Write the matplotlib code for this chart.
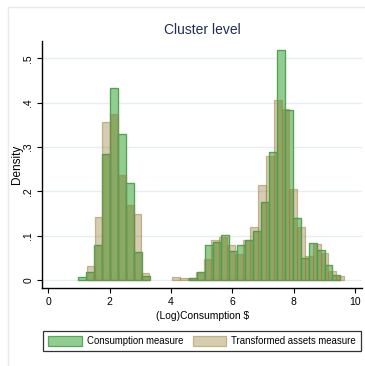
import numpy as np
import matplotlib
matplotlib.use('Agg')
import matplotlib.pyplot as plt
from matplotlib.patches import Rectangle, Patch

plt.rcParams['font.family'] = ['Liberation Sans', 'DejaVu Sans']

# histogram data (density per bin)
cons_start, cons_width = 0.977, 0.259
cons_density = [0.006, 0.017, 0.079, 0.284, 0.433, 0.329, 0.220, 0.063, 0.008,
                0, 0, 0, 0, 0,
                0.004, 0.017, 0.080, 0.086, 0.101, 0.065, 0.078, 0.090, 0.110,
                0.175, 0.290, 0.520, 0.383, 0.141, 0.049, 0.083, 0.068, 0.033, 0.011]

asset_start, asset_width = 1.252, 0.2543
asset_density = [0.032, 0.143, 0.357, 0.375, 0.237, 0.169, 0.149, 0.016,
                 0, 0, 0,
                 0.006, 0.004, 0.005, 0.019, 0.047, 0.090, 0.098, 0.078, 0.059,
                 0.090, 0.119, 0.214, 0.281, 0.407, 0.387, 0.205, 0.119, 0.055,
                 0.081, 0.060, 0.020, 0.009]

xticks = [0, 2, 4, 6, 8, 10]
yticks = [0, 0.1, 0.2, 0.3, 0.4, 0.5]
ytick_labels = ['0', '.1', '.2', '.3', '.4', '.5']

green_face = '#91cd91'
green_edge = '#55a855'
tan_face = (122/255, 88/255, 0, 0.30)
tan_edge = (0.62, 0.52, 0.30, 0.55)

fig = plt.figure(figsize=(3.65, 3.66), dpi=100)
fig.patch.set_facecolor('white')
# light outer frame of the graph region
fig.patches.append(Rectangle((7.5/365, -0.05), 1.2, (366-6.5)/366 + 0.05, transform=fig.transFigure,
                             fill=False, edgecolor='#e4ecec', lw=1.0))

ax = fig.add_axes([0.1159, 0.2123, 0.876, 0.6757])

def edges(start, width, n):
    return start + width*np.arange(n)

cd = np.array(cons_density)
ad = np.array(asset_density)
cx = edges(cons_start, cons_width, len(cd))
axx = edges(asset_start, asset_width, len(ad))
cm = cd > 0
am = ad > 0

ax.bar(cx[cm], cd[cm], width=cons_width, align='edge', color=green_face,
       edgecolor=green_edge, linewidth=0.9, zorder=2)
ax.bar(axx[am], ad[am], width=asset_width, align='edge', color=tan_face,
       edgecolor=tan_edge, linewidth=0.9, zorder=3)
# green outlines stay visible through the overlap
ax.bar(cx[cm], cd[cm], width=cons_width, align='edge', fill=False,
       edgecolor=(0.33, 0.62, 0.33, 0.55), linewidth=0.9, zorder=4)

ax.set_xlim(-0.196, 10.23)
ax.set_ylim(-0.0187, 0.5395)

for y in yticks:
    ax.axhline(y, color='#e6eff0', lw=1.0, zorder=1)

for s in ['top', 'right']:
    ax.spines[s].set_visible(False)
for s in ['left', 'bottom']:
    ax.spines[s].set_linewidth(1.0)
    ax.spines[s].set_color('black')

ax.set_xticks(xticks)
ax.set_xticklabels([str(v) for v in xticks], fontsize=7.5)
ax.set_yticks(yticks)
ax.set_yticklabels(ytick_labels, fontsize=7.5, rotation=90, va='center')
ax.tick_params(axis='both', length=3.5, width=0.8, direction='out', pad=3)

ax.set_xlabel('(Log)Consumption $', fontsize=7.4, labelpad=2.5)
ax.set_ylabel('Density', fontsize=8.5, labelpad=0)
ax.set_title('Cluster level', fontsize=10, color='#1f2d55', pad=5)

handles = [Patch(facecolor=green_face, edgecolor=green_edge, lw=0.9),
           Patch(facecolor='#d6cdaf', edgecolor='#c2b186', lw=0.9)]
leg = fig.legend(handles, ['Consumption measure', 'Transformed assets measure'],
                 loc='center', bbox_to_anchor=(202/365, 1 - 341/366), ncol=2,
                 fontsize=6.9, frameon=True, fancybox=False, edgecolor='black',
                 handlelength=3.5, handleheight=1.3, columnspacing=1.0,
                 handletextpad=0.5, borderpad=0.55, borderaxespad=0)
leg.get_frame().set_linewidth(0.9)

fig.savefig('out.png', dpi=100, facecolor='white')
